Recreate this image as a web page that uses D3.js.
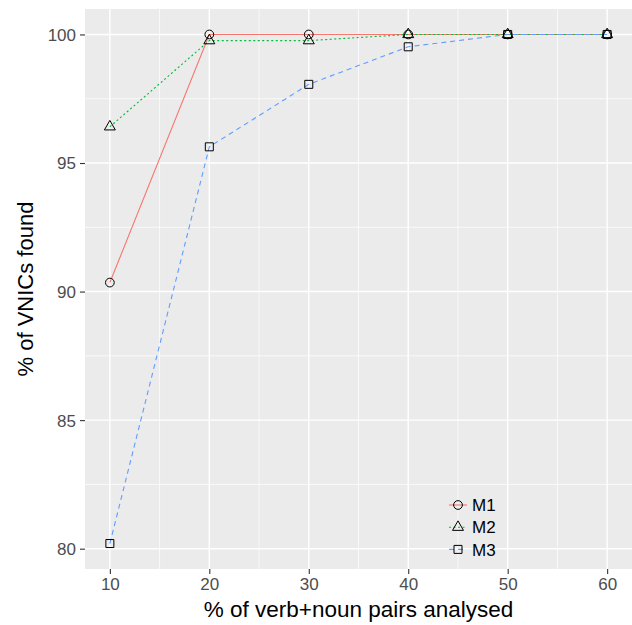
<!DOCTYPE html>
<html>
<head>
<meta charset="utf-8">
<script src="https://cdn.jsdelivr.net/npm/d3@7"></script>
<style>
  body { margin: 0; background: #fff; }
  text { font-family: "Liberation Sans", Arial, sans-serif; }
</style>
</head>
<body>
<div id="chart"></div>
<script>
// data
var xValues = [10, 20, 30, 40, 50, 60];
var seriesNames = ["M1", "M2", "M3"];
var m1 = [90.35, 100, 100, 100, 100, 100];
var m2 = [96.41, 99.76, 99.76, 100, 100, 100];
var m3 = [80.2, 95.63, 98.06, 99.52, 100, 100];
var xTicks = [10, 20, 30, 40, 50, 60];
var yTicks = [80, 85, 90, 95, 100];

var colors = ["#F8766D", "#00BA38", "#619CFF"];
var dashes = [null, "2,2.5", "5,4"];
var shapes = [d3.symbolCircle, d3.symbolTriangle, d3.symbolSquare];

var width = 632, height = 625;
var panel = {left: 85, right: 632, top: 9, bottom: 569};

var svg = d3.select("#chart").append("svg")
  .attr("width", width)
  .attr("height", height);

// ggplot style 5% expansion
var x = d3.scaleLinear().domain([7.5, 62.5]).range([panel.left, panel.right]);
var y = d3.scaleLinear().domain([79.21, 100.99]).range([panel.bottom, panel.top]);

svg.append("rect")
  .attr("x", panel.left).attr("y", panel.top)
  .attr("width", panel.right - panel.left)
  .attr("height", panel.bottom - panel.top)
  .attr("fill", "#EBEBEB");

// minor grid
var xMinor = [15, 25, 35, 45, 55];
var yMinor = [82.5, 87.5, 92.5, 97.5];
svg.selectAll(".xminor").data(xMinor).enter().append("line")
  .attr("x1", d => x(d)).attr("x2", d => x(d))
  .attr("y1", panel.top).attr("y2", panel.bottom)
  .attr("stroke", "#fff").attr("stroke-width", 0.7);
svg.selectAll(".yminor").data(yMinor).enter().append("line")
  .attr("y1", d => y(d)).attr("y2", d => y(d))
  .attr("x1", panel.left).attr("x2", panel.right)
  .attr("stroke", "#fff").attr("stroke-width", 0.7);

// major grid
svg.selectAll(".xmajor").data(xTicks).enter().append("line")
  .attr("x1", d => x(d)).attr("x2", d => x(d))
  .attr("y1", panel.top).attr("y2", panel.bottom)
  .attr("stroke", "#fff").attr("stroke-width", 1.4);
svg.selectAll(".ymajor").data(yTicks).enter().append("line")
  .attr("y1", d => y(d)).attr("y2", d => y(d))
  .attr("x1", panel.left).attr("x2", panel.right)
  .attr("stroke", "#fff").attr("stroke-width", 1.4);

// axes
var xAxis = svg.append("g")
  .attr("transform", "translate(0," + panel.bottom + ")")
  .call(d3.axisBottom(x).tickValues(xTicks).tickSize(5).tickPadding(4));
var yAxis = svg.append("g")
  .attr("transform", "translate(" + panel.left + ",0)")
  .call(d3.axisLeft(y).tickValues(yTicks).tickSize(5).tickPadding(4));

[xAxis, yAxis].forEach(function(a) {
  a.select(".domain").remove();
  a.selectAll(".tick line").attr("stroke", "#333").attr("stroke-width", 1.1);
  a.selectAll(".tick text")
    .attr("fill", "#4D4D4D")
    .style("font-size", "17px")
    .style("font-family", "Liberation Sans, Arial, sans-serif");
});
yAxis.selectAll(".tick text").attr("dy", "0.35em");

// lines
var series = [m1, m2, m3];
var line = d3.line()
  .x((d, i) => x(xValues[i]))
  .y(d => y(d));

series.forEach(function(s, k) {
  svg.append("path")
    .datum(s)
    .attr("d", line)
    .attr("fill", "none")
    .attr("stroke", colors[k])
    .attr("stroke-width", 1.1)
    .attr("stroke-dasharray", dashes[k]);
});

// points
var sizes = [60, 52, 64];
series.forEach(function(s, k) {
  svg.selectAll(".pt" + k).data(s).enter().append("path")
    .attr("d", d3.symbol().type(shapes[k]).size(sizes[k]))
    .attr("transform", (d, i) => "translate(" + x(xValues[i]) + "," + y(d) + ")")
    .attr("fill", "none")
    .attr("stroke", "#000")
    .attr("stroke-width", 1);
});

// legend
var legend = svg.append("g").attr("transform", "translate(449,505)");
seriesNames.forEach(function(name, k) {
  var g = legend.append("g").attr("transform", "translate(0," + (k * 22.2) + ")");
  g.append("line")
    .attr("x1", 0).attr("x2", 18)
    .attr("stroke", colors[k])
    .attr("stroke-width", 1.1)
    .attr("stroke-dasharray", dashes[k]);
  g.append("path")
    .attr("d", d3.symbol().type(shapes[k]).size(sizes[k]))
    .attr("transform", "translate(9,0)")
    .attr("fill", "none")
    .attr("stroke", "#000");
  g.append("text")
    .attr("x", 23).attr("dy", "0.36em")
    .style("font-size", "17px")
    .attr("fill", "#000")
    .text(name);
});

// axis titles
svg.append("text")
  .attr("x", (panel.left + panel.right) / 2)
  .attr("y", 617)
  .attr("text-anchor", "middle")
  .style("font-size", "22.5px")
  .text("% of verb+noun pairs analysed");

svg.append("text")
  .attr("transform", "translate(33," + ((panel.top + panel.bottom) / 2) + ") rotate(-90)")
  .attr("text-anchor", "middle")
  .style("font-size", "22px")
  .text("% of VNICs found");
</script>
</body>
</html>
